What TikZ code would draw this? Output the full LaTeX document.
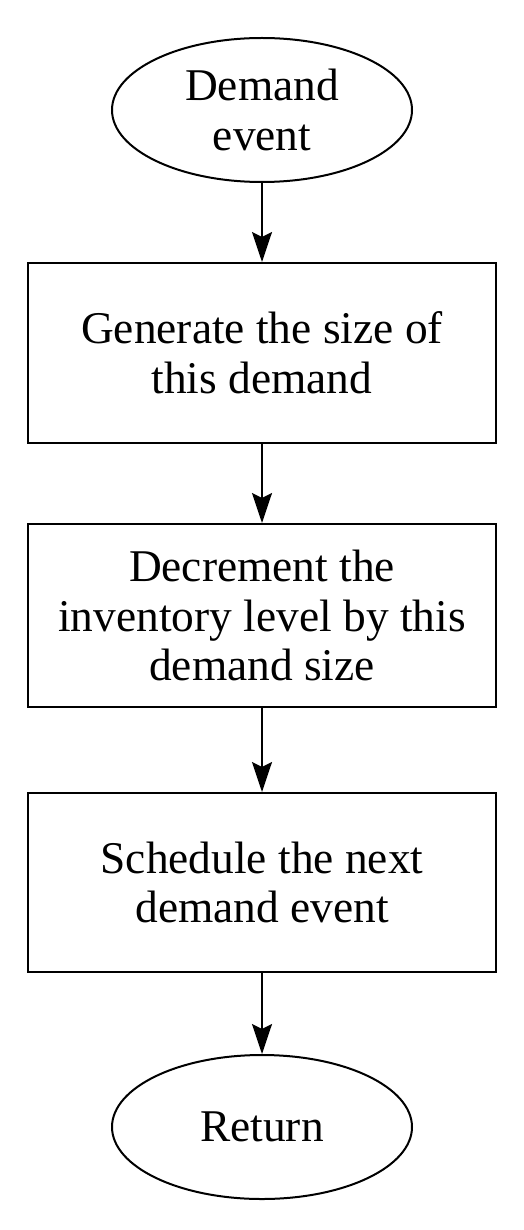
\documentclass[tikz,border=0pt]{standalone}
\usepackage{fontspec}
\setmainfont{Liberation Serif}
\usetikzlibrary{positioning,shapes.geometric,arrows.meta}

\begin{document}
\begin{tikzpicture}[node distance=39.5pt, auto,
        every node/.style={font=\fontsize{22.7}{24.8}\selectfont, align=center, line width=1pt},
        terminal/.style={ellipse, draw, minimum width=150pt, minimum height=72pt, inner sep=0pt},
        process/.style={rectangle, draw, minimum width=234pt, inner sep=0pt},
        flow/.style={-{Stealth[length=15pt, width=10pt, inset=2.5pt]}, line width=1pt}]
        \useasboundingbox (0,0) rectangle (262pt,-615pt);
        % Nodes
        \node (start) [terminal] at (131pt,-55pt) {Demand\\event};
        \node (gen) [process, minimum height=90pt, below=of start] {Generate the size of\\this demand};
        \node (dec) [process, minimum height=91.5pt, below=of gen] {Decrement the\\inventory level by this\\demand size};
        \node (sched) [process, minimum height=89.5pt, below=42pt of dec] {Schedule the next\\demand event};
        \node (ret) [terminal, below=40.5pt of sched] {Return};

        % Arrows
        \draw[flow] (start) -- (gen);
        \draw[flow] (gen) -- (dec);
        \draw[flow] (dec) -- (sched);
        \draw[flow] (sched) -- (ret);
    \end{tikzpicture}
\end{document}
